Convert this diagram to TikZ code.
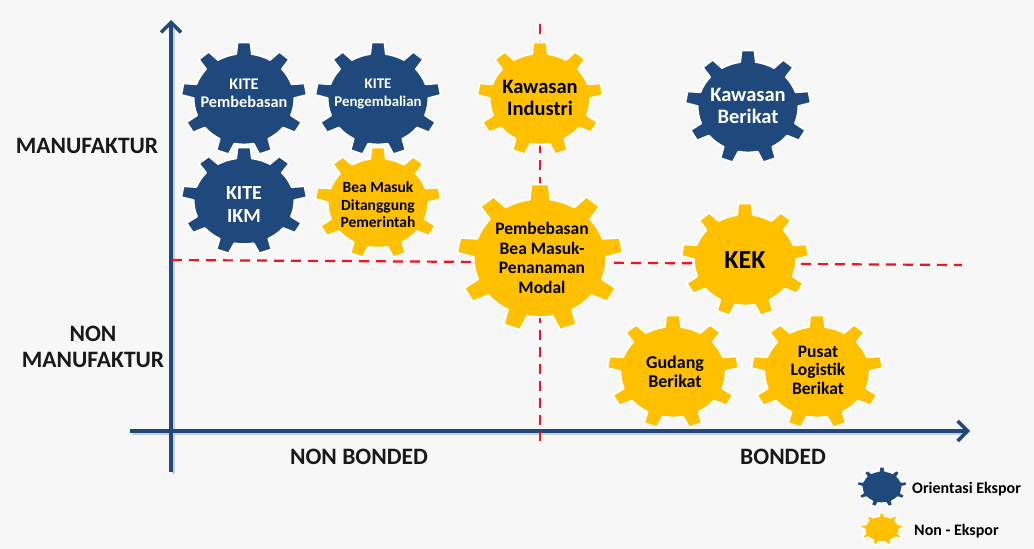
\documentclass[tikz,border=0pt]{standalone}
\usepackage{xcolor}
\usepackage{fontspec}
\setmainfont{Carlito}
\usetikzlibrary{arrows.meta, positioning, calc}
\definecolor{GearBlue}{RGB}{31, 73, 125}
\definecolor{GearYellow}{RGB}{255, 192, 0}
\definecolor{PageGrey}{RGB}{247, 247, 247}
\definecolor{AxisShadow}{RGB}{205, 205, 205}
\definecolor{DashRed}{RGB}{240, 20, 30}

\tikzset{
  axisline/.style={draw=GearBlue, line width=3.5pt, -{Straight Barb[length=10pt, width=20pt, line width=3.5pt]}},
  axisshade/.style={draw=AxisShadow, line width=3pt},
  dashline/.style={draw=DashRed, line width=2.2pt, dash pattern=on 10pt off 7pt},
  gearbody/.style={fill=#1, draw=white, line width=2pt, line join=round},
  axislabel/.style={font=\fontsize{23.5}{26}\selectfont\bfseries, text=black!90, align=center, inner sep=0pt},
  gearlabel/.style={font=\fontsize{#1}{#1}\selectfont\bfseries, align=center, inner sep=0pt}
}

% x y rx ry colour
\newcommand{\gearshape}[5]{
  \filldraw[gearbody=#5, shift={(#1,#2)}, x=#3pt, y=#4pt] (81:0.8)
    \foreach \a in {90,130,...,410} {
      -- ({\a-9}:0.8) -- ({\a-6}:1) -- ({\a+6}:1) -- ({\a+9}:0.8)
      arc ({\a+9}:{\a+31}:0.8)
    } -- cycle;
}

\begin{document}
\begin{tikzpicture}[x=1pt, y=-1pt]
    \useasboundingbox[fill=PageGrey] (0,0) rectangle (1034,549);

    % axes and quadrant lines
    \coordinate (ybottom) at (171,472);
    \coordinate (ytop) at (171,20);
    \coordinate (xleft) at (130,431);
    \coordinate (xright) at (970,431);
    \coordinate (hstart) at (172,260);
    \coordinate (hend) at (962,265);
    \coordinate (vstart) at (540,24);
    \coordinate (vend) at (540,441);
    \draw[axisshade] ($(ybottom)+(2,2)$) -- ($(ytop)+(2,8)$);
    \draw[axisshade] ($(xleft)+(2,2)$) -- ($(xright)+(-6,2)$);
    \draw[axisline] (ybottom) -- (ytop);
    \draw[axisline] (xleft) -- (xright);
    \draw[dashline] (hstart) -- (hend);
    \draw[dashline] (vstart) -- (vend);

    % gears
    \gearshape{244}{99}{63}{57}{GearBlue}
    \gearshape{378}{99}{63}{57}{GearBlue}
    \gearshape{244}{201}{63}{54}{GearBlue}
    \gearshape{378}{203}{63}{56}{GearYellow}
    \gearshape{540}{99}{63}{57}{GearYellow}
    \gearshape{748}{107}{63}{57}{GearBlue}
    \gearshape{540}{258}{83}{74}{GearYellow}
    \gearshape{745}{260}{64}{57}{GearYellow}
    \gearshape{673}{372}{66}{57}{GearYellow}
    \gearshape{817}{372}{66}{57}{GearYellow}
    \gearshape{882}{487}{25.5}{20.5}{GearBlue}
    \gearshape{882}{529}{22}{16.5}{GearYellow}

    % gear texts
    \node[gearlabel=16.3, text=white] (kitebebas) at (244,93) {KITE\\[2pt]Pembebasan};
    \node[gearlabel=14.8, text=white] (kitekembali) at (378,94) {KITE\\[3pt]Pengembalian};
    \node[gearlabel=20, text=white] (kiteikm) at (244,205) {KITE\\[3pt]IKM};
    \node[gearlabel=15.5, text=black] (beamasuk) at (378,205) {Bea Masuk\\[2pt]Ditanggung\\[2pt]Pemerintah};
    \node[gearlabel=20.5, text=black] (industri) at (540,98) {Kawasan\\[2pt]Industri};
    \node[gearlabel=20.5, text=white] (berikat) at (748,106) {Kawasan\\[2pt]Berikat};
    \node[gearlabel=17.5, text=black] (pembebasan) at (542,258) {Pembebasan\\[2pt]Bea Masuk-\\[2pt]Penanaman\\[2pt]Modal};
    \node[gearlabel=26, text=black] (kek) at (745,260) {KEK};
    \node[gearlabel=18, text=black] (gudang) at (675,372) {Gudang\\[1pt]Berikat};
    \node[gearlabel=17.5, text=black] (pusat) at (818,370) {Pusat\\[1pt]Logistik\\[1pt]Berikat};

    % axis labels
    \node[axislabel] (manufaktur) at (87,146) {MANUFAKTUR};
    \node[axislabel] (nonmanufaktur) at (93,347) {NON\\MANUFAKTUR};
    \node[axislabel] (nonbonded) at (359,457) {NON BONDED};
    \node[axislabel] (bonded) at (783,457) {BONDED};

    % legend
    \node[gearlabel=16, text=black, anchor=west] (legendblue) at (912,489) {Orientasi Ekspor};
    \node[gearlabel=16, text=black, anchor=west] (legendyellow) at (914,531) {Non - Ekspor};
  \end{tikzpicture}
\end{document}
